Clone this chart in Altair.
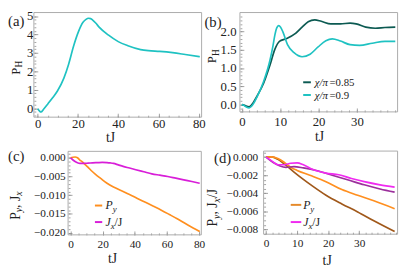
import altair as alt
import pandas as pd

# ---------------- data ----------------
# (a) P_H vs tJ
a_t = [0, 1.6, 3, 5.1, 7.5, 9.8, 13, 15.4, 17.8, 20.2, 22.5, 24, 25.2, 26.3, 27.3,
       28.8, 30.5, 35.2, 40, 44.8, 51.1, 55, 60.6, 67, 73.3, 80.5]
a_ph = [-0.03, -0.21, -0.05, 0.24, 0.58, 0.93, 1.63, 2.4, 3.36, 4.14, 4.66, 4.82, 4.88,
        4.86, 4.78, 4.62, 4.4, 3.96, 3.61, 3.39, 3.18, 3.12, 3.08, 3.01, 2.91, 2.79]

# (b) P_H for chi/pi = 0.85 and 0.9
b85_t = [0, 0.5, 1.1, 1.9, 3, 4, 5.7, 7.3, 8.6, 9.8, 11.5, 14, 15.7, 17.3, 19, 20.7,
         23.2, 25.7, 28.2, 29.8, 32.3, 34.8, 37.3, 40]
b85_ph = [0.0, -0.01, -0.04, -0.06, 0.06, 0.24, 0.59, 1.07, 1.51, 1.73, 1.80, 1.95, 2.12,
          2.27, 2.32, 2.28, 2.21, 2.21, 2.23, 2.21, 2.12, 2.09, 2.11, 2.12]
b90_t = [0, 0.5, 1.1, 1.9, 3, 4, 5.7, 7.3, 8.1, 8.6, 9.1, 9.6, 10.1, 10.7, 11.9, 13.6,
         15.7, 17.8, 19.8, 21.9, 23.6, 25.7, 28.2, 30.7, 34, 37.3, 40]
b90_ph = [0.0, -0.02, -0.06, -0.09, 0.02, 0.22, 0.64, 1.2, 1.6, 1.9, 2.1, 2.16, 2.12, 1.99,
          1.64, 1.42, 1.31, 1.38, 1.57, 1.75, 1.80, 1.74, 1.64, 1.62, 1.68, 1.73, 1.73]

# (c) P_y and J_x/J
c_py_t = [0, 1.5, 2.8, 4.3, 5.8, 7.3, 8.8, 10.8, 12.8, 15.7, 18.7, 22.7, 26.7, 31.7, 36.7,
          41.6, 46.6, 51.6, 56.5, 61.5, 66.4, 70.4, 74.4, 78.4, 80.4]
c_py = [0, 0.00015, 0.0002, 0.0, -0.0006, -0.0011, -0.0017, -0.0025, -0.0034, -0.0045,
        -0.0055, -0.0068, -0.0078, -0.0088, -0.0098, -0.01085, -0.0119, -0.01295, -0.014,
        -0.01515, -0.0163, -0.0173, -0.0183, -0.0192, -0.0197]
c_jx_t = [0, 1.5, 2.8, 4.3, 5.8, 8, 10.7, 13.7, 16.7, 19.7, 22.7, 24.7, 26.7, 29.7, 32.7,
          36.7, 40.6, 45.6, 50.6, 55.6, 60.5, 65.5, 70.5, 75.5, 80.4]
c_jx = [0, -0.0006, -0.001, -0.00135, -0.0015, -0.0015, -0.00145, -0.00135, -0.0013,
        -0.00125, -0.0013, -0.00138, -0.0015, -0.0019, -0.0023, -0.00275, -0.0032, -0.00375,
        -0.0043, -0.00465, -0.005, -0.00545, -0.0059, -0.00635, -0.0068]

# (d) P_y and J_x/J for two chi values
d_py85_t = [0, 1.8, 3.8, 5.9, 9, 12, 15.1, 19.3, 24.4, 29.5, 34.7, 41.4]
d_py85 = [0, 0.00003, -0.00025, -0.00078, -0.00166, -0.00247, -0.00325, -0.00423,
          -0.00519, -0.00607, -0.00706, -0.00825]
d_py90_t = [0, 1.8, 3.8, 5.9, 7.9, 10, 14.1, 19.3, 24.4, 29.5, 34.7, 41.4]
d_py90 = [0, 0.00003, -0.00015, -0.0006, -0.00113, -0.00148, -0.00201, -0.00272, -0.0036,
          -0.00423, -0.00484, -0.00571]
d_jx85_t = [0, 2.3, 4.3, 6.4, 9, 12, 16.2, 21.3, 26.5, 31.6, 36.7, 41.4]
d_jx85 = [0, -0.0006, -0.00095, -0.00113, -0.00106, -0.0012, -0.00148, -0.00201, -0.00254,
          -0.00307, -0.00353, -0.00388]
d_jx90_t = [0, 1.8, 3.8, 5.9, 7.9, 10, 12, 15.1, 19.3, 23.4, 27.5, 31.6, 36.7, 41.4]
d_jx90 = [0, -0.00042, -0.00085, -0.00085, -0.00068, -0.00064, -0.00085, -0.00138,
          -0.00177, -0.00195, -0.00237, -0.00272, -0.00307, -0.00332]

# tick values
a_xt, a_yt = [0, 20, 40, 60, 80], [0, 1, 2, 3, 4, 5]
b_xt, b_yt = [0, 10, 20, 30], [0, 0.5, 1, 1.5, 2]
c_xt, c_yt = [0, 20, 40, 60, 80], [0, -0.005, -0.01, -0.015, -0.02]
d_xt, d_yt = [0, 10, 20, 30], [0, -0.002, -0.004, -0.006, -0.008]
a_xm = [5 * i for i in range(17)]
a_ym = [round(0.2 * i, 2) for i in range(-2, 26)]
b_xm = [2 * i for i in range(21)]
b_ym = [round(0.1 * i, 2) for i in range(-2, 25)]
c_xm = [5 * i for i in range(17)]
c_ym = [round(-0.001 * i, 4) for i in range(-1, 21)]
d_xm = [2 * i for i in range(22)]
d_ym = [round(-0.0005 * i, 5) for i in range(-1, 18)]

# ---------------- layout / styling ----------------
W, H = 399, 262          # whole drawing area (page margin 8px)
FONT = "Liberation Serif"
INK = "#222222"
FRAME = "#ababab"
TICK = "#8a8a8a"
CYAN = "#1fc2c2"
TEAL = "#0c5a52"
ORANGE = "#ff8f1f"
BROWN = "#a0581a"
MAGENTA = "#d81ed8"
PURPLE = "#9b2f9b"
BRIGHT_MAG = "#f02af0"


def X(r):  # reference-picture x -> drawing x
    return r * 0.978


def Y(r):  # reference-picture y -> drawing y
    return (r - 1) * 0.975


ROMAN = {"P": .556, "J": .389, "H": .722, "t": .278, "x": .5, "y": .5, ",": .25, " ": .25,
         "/": .278, "=": .564, ".": .25, "(": .333, ")": .333}
ITAL = {"P": .611, "J": .444, "x": .444, "y": .444, "/": .278, "χ": .55, "π": .55}


def tw(s, size, italic):
    tab = ITAL if italic else ROMAN
    return sum(tab.get(ch, 0.5) for ch in s) * size


def one():
    return alt.Chart(pd.DataFrame({"k": [0]}))


def txt(text, x, y, size=13, italic=False, angle=0, align="left", baseline="alphabetic"):
    return one().mark_text(
        text=text, font=FONT, fontSize=size, fontStyle="italic" if italic else "normal",
        align=align, baseline=baseline, angle=angle, color=INK,
    ).encode(x=alt.value(x), y=alt.value(y))


def rich_h(pieces, xr, yr):
    out, x, y = [], X(xr), Y(yr)
    for text, size, ital, dy in pieces:
        out.append(txt(text, x, y + dy, size, ital))
        x += tw(text, size, ital)
    return out


def rich_v(pieces, xr, yr):
    # rotated, reading bottom -> top; (xr, yr) = baseline x and start (bottom) y
    out, x, y = [], X(xr), Y(yr)
    for text, size, ital, dx in pieces:
        out.append(txt(text, x + dx, y, size, ital, angle=270))
        y -= tw(text, size, ital)
    return out


def label(text, xr, yr, size, align="left"):
    return txt(text, X(xr), Y(yr), size, align=align, baseline="middle")


def swatch(x1, x2, yr, color):
    return one().mark_rule(color=color, strokeWidth=2).encode(
        x=alt.value(X(x1)), x2=alt.value(X(x2)), y=alt.value(Y(yr)))


def frame(box):
    x0, x1, y0, y1 = box
    return one().mark_rect(fillOpacity=0, stroke=FRAME, strokeWidth=1).encode(
        x=alt.value(X(x0)), x2=alt.value(X(x1)), y=alt.value(Y(y0)), y2=alt.value(Y(y1)))


def long_df(series):
    rows = []
    for name, ts, vs in series:
        for t, v in zip(ts, vs):
            rows.append({"t": t, "v": v, "s": name})
    return pd.DataFrame(rows)


def axes(box, xvals, yvals, yfmt, lsize, xpad, ypad, tsize, labels=True):
    x0, x1, y0, y1 = box
    common = dict(title=None, grid=False, domain=False, ticks=True, tickSize=tsize,
                  tickColor=TICK, tickWidth=0.8, labelFont=FONT, labelFontSize=lsize,
                  labelColor=INK, labelFlush=False, labelOverlap=False, labels=labels)
    xaxis = alt.Axis(orient="bottom", values=xvals, offset=Y(y1) - tsize - H,
                     labelPadding=xpad, **common)
    yax_kw = dict(orient="left", values=yvals, offset=-(X(x0) + tsize), labelPadding=ypad,
                  **common)
    if yfmt:
        yax_kw["format"] = yfmt
    return xaxis, alt.Axis(**yax_kw)


def panel(df, box, xdom, ydom, xvals, yvals, yfmt, dom, rng, lsize, xpad, ypad,
          xminor, yminor):
    x0, x1, y0, y1 = box
    xs = alt.Scale(domain=xdom, range=[X(x0), X(x1)], nice=False, zero=False)
    ys = alt.Scale(domain=ydom, range=[Y(y1), Y(y0)], nice=False, zero=False)
    xa, ya = axes(box, xvals, yvals, yfmt, lsize, xpad, ypad, 4)
    xm, ym = axes(box, xminor, yminor, None, lsize, 0, 0, 2, labels=False)
    minor = alt.Chart(df).mark_line(opacity=0).encode(
        x=alt.X("t:Q", scale=xs, axis=xm), y=alt.Y("v:Q", scale=ys, axis=ym))
    main = alt.Chart(df).mark_line(strokeWidth=1.7, interpolate="monotone").encode(
        x=alt.X("t:Q", scale=xs, axis=xa),
        y=alt.Y("v:Q", scale=ys, axis=ya),
        color=alt.Color("s:N", scale=alt.Scale(domain=dom, range=rng), legend=None),
        detail="s:N",
    )
    return [minor, main]


# frames of the four panels in reference-picture pixels: x0, x1, y0(top), y1(bottom)
BOX_A = (27, 202, 3, 112.5)
BOX_B = (242, 406.5, 3, 107)
BOX_C = (62.7, 201.7, 148.3, 235.7)
BOX_D = (266.7, 406.5, 148, 235)

la = panel(long_df([("a", a_t, a_ph)]), BOX_A, [-1.9, 81.4], [-0.49, 5.19],
           a_xt, a_yt, None, ["a"], [CYAN], 13, 1, 1, a_xm, a_ym)
lb = panel(long_df([("0.85", b85_t, b85_ph), ("0.9", b90_t, b90_ph)]), BOX_B,
           [-0.5, 40.6], [-0.2, 2.52], b_xt, b_yt, ".1f",
           ["0.85", "0.9"], [TEAL, CYAN], 13, 4, 4, b_xm, b_ym)
lc = panel(long_df([("Py", c_py_t, c_py), ("Jx", c_jx_t, c_jx)]), BOX_C,
           [-1.55, 81.4], [-0.02059, 0.00171], c_xt, c_yt, ".3f", ["Py", "Jx"],
           [ORANGE, MAGENTA], 11.5, 4, 3, c_xm, c_ym)
ld = panel(long_df([("Py85", d_py85_t, d_py85), ("Py90", d_py90_t, d_py90),
                    ("Jx85", d_jx85_t, d_jx85), ("Jx90", d_jx90_t, d_jx90)]), BOX_D,
           [-0.8, 42.35], [-0.00854, 0.000667], d_xt, d_yt, ".3f",
           ["Py85", "Py90", "Jx85", "Jx90"], [BROWN, ORANGE, PURPLE, BRIGHT_MAG],
           11.5, 4, 6, d_xm, d_ym)

decor = [frame(BOX_A), frame(BOX_B), frame(BOX_C), frame(BOX_D)]
texts = [
    label("(a)", 0, 12, 15), label("(b)", 205, 13, 15),
    label("(c)", 0, 153, 15), label("(d)", 215, 155, 15),
    label("tJ", 107, 134, 14, "center"), label("tJ", 325, 133, 14, "center"),
    label("tJ", 109, 261, 14, "center"), label("tJ", 333, 263, 14, "center"),
    *rich_v([("P", 13, False, 0), ("H", 9.5, False, 3)], 12, 68),
    *rich_v([("P", 13, False, 0), ("H", 9.5, False, 3)], 217, 56),
    *rich_v([("P", 14, False, 0), ("y", 10, True, 3), (", ", 14, False, 0),
             ("J", 14, False, 0), ("x", 10, True, 3)], 12, 220),
    *rich_v([("P", 14, False, 0), ("y", 10, True, 3), (", ", 14, False, 0),
             ("J", 14, False, 0), ("x", 10, True, 3), ("/J", 14, False, 0)], 218.5, 227),
    # legends
    swatch(308, 316, 76, TEAL),
    *rich_h([("χ/π", 11, True, 0), ("=0.85", 11, False, 0)], 320, 80),
    swatch(308, 316, 89.3, CYAN),
    *rich_h([("χ/π", 11, True, 0), ("=0.9", 11, False, 0)], 320, 93.3),
    swatch(90.7, 98.3, 205, ORANGE),
    *rich_h([("P", 12, True, 0), ("y", 9, True, 3)], 101.7, 209),
    swatch(90.7, 98.3, 222.3, MAGENTA),
    *rich_h([("J", 12, True, 0), ("x", 9, True, 3), ("/J", 12, False, 0)], 101.7, 226.3),
    swatch(295, 306, 204.3, "#e58a2a"),
    *rich_h([("P", 12, True, 0), ("y", 9, True, 3)], 308, 208.3),
    swatch(295, 306, 222.3, BRIGHT_MAG),
    *rich_h([("J", 12, True, 0), ("x", 9, True, 3), ("/J", 12, False, 0)], 308, 226.3),
]

chart = alt.layer(*decor, *la, *lb, *lc, *ld, *texts).resolve_scale(
    x="independent", y="independent", color="independent"
).resolve_axis(x="independent", y="independent").properties(
    width=W, height=H, padding=0, background="white",
    autosize=alt.AutoSizeParams(type="none"),
).configure_view(stroke=None)

chart.save("out.html", embed_options={"renderer": "svg", "actions": False})
